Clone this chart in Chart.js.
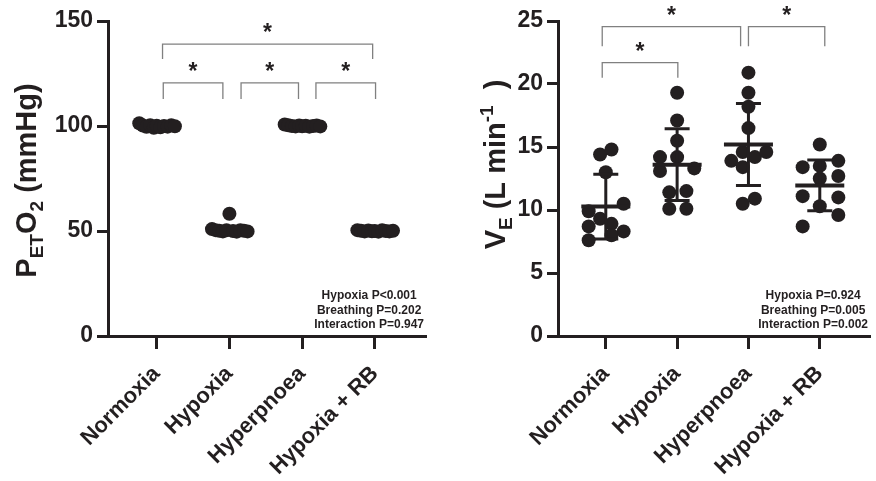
<!DOCTYPE html>
<html>
<head>
<meta charset="utf-8">
<script src="https://cdn.jsdelivr.net/npm/chart.js@4.4.0/dist/chart.umd.min.js"></script>
<style>
  body { margin: 0; background: #fff; width: 876px; height: 481px; overflow: hidden; position: relative; }
  canvas { position: absolute; top: 0; }
  #left { left: 0; }
  #right { left: 450px; }
</style>
</head>
<body>
<canvas id="left" width="450" height="481"></canvas>
<canvas id="right" width="426" height="481"></canvas>
<script>
const categories = ['Normoxia', 'Hypoxia', 'Hyperpnoea', 'Hypoxia + RB'];

// PETO2 (mmHg), 11 subjects per condition
const petJitter = [-0.24, -0.19, -0.14, -0.09, -0.04, 0, 0.05, 0.1, 0.15, 0.2, 0.25];
const petNormoxia = [101.3, 100.2, 99.6, 100.4, 99.2, 100.1, 99.4, 100.0, 99.7, 100.3, 99.9];
const petHypoxia = [50.9, 50.4, 50.1, 49.8, 50.3, 58.2, 50.0, 49.7, 50.4, 50.1, 49.8];
const petHyperpnoea = [100.7, 100.3, 100.0, 99.8, 100.2, 99.9, 100.1, 99.7, 100.0, 100.2, 99.8];
const petHypoxiaRB = [50.4, 50.1, 49.8, 50.2, 49.9, 50.0, 49.7, 50.3, 50.0, 49.8, 50.1];

// VE (L/min)
const veNormoxia = [14.4, 14.8, 13.0, 10.5, 9.9, 9.3, 8.9, 8.7, 8.3, 7.6, 8.0];
const veNormoxiaX = [-0.08, 0.08, 0, 0.25, -0.24, -0.08, 0.08, -0.24, 0.25, -0.24, 0.08];
const veHypoxia = [19.3, 17.1, 15.5, 14.2, 14.2, 13.1, 13.3, 11.4, 11.5, 10.1, 10.1];
const veHypoxiaX = [0, 0, 0, -0.24, 0, -0.24, 0.24, -0.11, 0.13, -0.11, 0.13];
const veHyperpnoea = [20.9, 19.3, 18.2, 16.5, 14.6, 14.2, 14.6, 13.9, 13.4, 10.5, 10.9];
const veHyperpnoeaX = [0, 0, 0, 0, -0.08, 0.09, 0.25, -0.24, -0.08, -0.08, 0.09];
const veHypoxiaRB = [15.2, 13.4, 13.5, 13.9, 12.5, 12.7, 11.1, 11.0, 10.3, 9.6, 8.7];
const veHypoxiaRBX = [0, -0.24, 0, 0.26, 0, 0.26, -0.24, 0.26, 0, 0.26, -0.24];
const veMean = [10.27, 13.6, 15.2, 11.95];
const veSD = [2.57, 2.85, 3.26, 2.01];

// significance brackets: [from, to, top, legBottom]
const petBrackets = [[0.08, 2.97, 139, 131.9], [0.09, 0.91, 120.5, 112.9], [1.16, 1.95, 120.5, 112.9], [2.19, 3.01, 120.5, 112.9]];
const veBrackets = [[-0.05, 1.89, 24.55, 23.0], [2.0, 3.07, 24.55, 23.0], [-0.05, 1.01, 21.7, 20.5]];

const petStats = ['Hypoxia P<0.001', 'Breathing P=0.202', 'Interaction P=0.947'];
const veStats = ['Hypoxia P=0.924', 'Breathing P=0.005', 'Interaction P=0.002'];

const FONT = "'Liberation Sans', Arial, sans-serif";
const INK = '#231f20';

function points(vals, jit, i) {
    return vals.map((v, j) => ({x: i + jit[j], y: v}));
}

function drawTitle(ctx, cx, cy, parts) {
    ctx.save();
    ctx.translate(cx, cy);
    ctx.rotate(-Math.PI / 2);
    ctx.fillStyle = INK;
    ctx.textBaseline = 'alphabetic';
    let w = 0;
    parts.forEach(p => {
        ctx.font = 'bold ' + p.s + 'px ' + FONT;
        w += ctx.measureText(p.t).width;
    });
    let x = -w / 2;
    parts.forEach(p => {
        ctx.font = 'bold ' + p.s + 'px ' + FONT;
        ctx.fillText(p.t, x, p.dy || 0);
        x += ctx.measureText(p.t).width;
    });
    ctx.restore();
}

const extras = {
    id: 'extras',
    afterDatasetsDraw(chart, args, o) {
        const ctx = chart.ctx;
        const xs = chart.scales.x, ys = chart.scales.y;
        const area = chart.chartArea;

        // mean ± SD
        if (o.mean) {
            ctx.save();
            ctx.strokeStyle = INK;
            o.mean.forEach((m, i) => {
                const px = xs.getPixelForValue(i);
                const pm = ys.getPixelForValue(m);
                const pu = ys.getPixelForValue(m + o.sd[i]);
                const pl = ys.getPixelForValue(m - o.sd[i]);
                ctx.lineWidth = 3;
                ctx.beginPath();
                ctx.moveTo(px, pu); ctx.lineTo(px, pl);
                ctx.moveTo(px - 12.5, pu); ctx.lineTo(px + 12.5, pu);
                ctx.moveTo(px - 12.5, pl); ctx.lineTo(px + 12.5, pl);
                ctx.stroke();
                ctx.lineWidth = 4;
                ctx.beginPath();
                ctx.moveTo(px - 24.5, pm); ctx.lineTo(px + 24.5, pm);
                ctx.stroke();
            });
            ctx.restore();
        }

        // brackets + asterisks
        ctx.save();
        ctx.strokeStyle = '#808080';
        ctx.lineWidth = 1.3;
        ctx.fillStyle = INK;
        ctx.font = 'bold 23px ' + FONT;
        ctx.textAlign = 'center';
        ctx.textBaseline = 'alphabetic';
        o.brackets.forEach(b => {
            const x1 = xs.getPixelForValue(b[0]), x2 = xs.getPixelForValue(b[1]);
            const yt = ys.getPixelForValue(b[2]), yb = ys.getPixelForValue(b[3]);
            ctx.beginPath();
            ctx.moveTo(x1, yb); ctx.lineTo(x1, yt); ctx.lineTo(x2, yt); ctx.lineTo(x2, yb);
            ctx.stroke();
            ctx.fillText('*', (x1 + x2) / 2, yt - 17 + 13);
        });
        ctx.restore();

        // stats text
        ctx.save();
        ctx.fillStyle = INK;
        ctx.font = 'bold 12px ' + FONT;
        ctx.textAlign = 'center';
        ctx.textBaseline = 'middle';
        const mw = Math.max(...o.stats.map(s => ctx.measureText(s).width));
        const cx = area.right - mw / 2 - 1;
        [-40, -25.5, -11].forEach((dy, k) => ctx.fillText(o.stats[k], cx, area.bottom + dy));
        ctx.restore();

        drawTitle(ctx, o.titleX, (area.top + area.bottom) / 2 + o.titleDy, o.title);
    }
};

function makeChart(id, datasets, yMax, step, extra) {
    return new Chart(document.getElementById(id), {
        type: 'scatter',
        data: {datasets: datasets},
        plugins: [extras],
        options: {
            responsive: false,
            animation: false,
            devicePixelRatio: 1,
            layout: {padding: {top: 21, right: extra.padRight, bottom: 0, left: 0}},
            plugins: {legend: {display: false}, tooltip: {enabled: false}, extras: extra},
            scales: {
                x: {
                    type: 'linear',
                    min: -0.67,
                    max: 3.69,
                    afterBuildTicks: s => { s.ticks = categories.map((c, i) => ({value: i})); },
                    afterFit: s => { s.height = 145; },
                    border: {color: INK, width: 3},
                    grid: {drawOnChartArea: false, color: INK, lineWidth: 3, tickLength: 13},
                    ticks: {
                        autoSkip: false,
                        minRotation: 45,
                        maxRotation: 45,
                        padding: 12,
                        color: INK,
                        font: {family: FONT, size: 22, weight: 'bold'},
                        callback: v => categories[v]
                    }
                },
                y: {
                    min: 0,
                    max: yMax,
                    afterFit: s => { s.width = 108; },
                    border: {color: INK, width: 3},
                    grid: {drawOnChartArea: false, color: INK, lineWidth: 3, tickLength: 11},
                    ticks: {
                        stepSize: step,
                        padding: 4,
                        color: INK,
                        font: {family: FONT, size: 23, weight: 'bold'}
                    }
                }
            }
        }
    });
}

function ds(data) {
    return {
        data: data,
        pointRadius: 7,
        pointBackgroundColor: INK,
        pointBorderColor: INK,
        pointBorderWidth: 0,
        clip: false
    };
}

makeChart('left', [
    ds(points(petNormoxia, petJitter, 0)),
    ds(points(petHypoxia, petJitter, 1)),
    ds(points(petHyperpnoea, petJitter, 2)),
    ds(points(petHypoxiaRB, petJitter, 3))
], 150, 50, {
    padRight: 25,
    brackets: petBrackets,
    stats: petStats,
    titleX: 36,
    titleDy: 2,
    title: [
        {t: 'P', s: 29}, {t: 'ET', s: 19, dy: 7}, {t: 'O', s: 29}, {t: '2', s: 19, dy: 7}, {t: ' (mmHg)', s: 29}
    ]
});

makeChart('right', [
    ds(points(veNormoxia, veNormoxiaX, 0)),
    ds(points(veHypoxia, veHypoxiaX, 1)),
    ds(points(veHyperpnoea, veHyperpnoeaX, 2)),
    ds(points(veHypoxiaRB, veHypoxiaRBX, 3))
], 25, 5, {
    padRight: 2,
    mean: veMean,
    sd: veSD,
    brackets: veBrackets,
    stats: veStats,
    titleX: 55,
    titleDy: -14,
    title: [
        {t: 'V', s: 29}, {t: 'E', s: 19, dy: 7}, {t: ' (L min', s: 29}, {t: '-1', s: 19, dy: -12}, {t: '  )', s: 29}
    ]
});
</script>
</body>
</html>
